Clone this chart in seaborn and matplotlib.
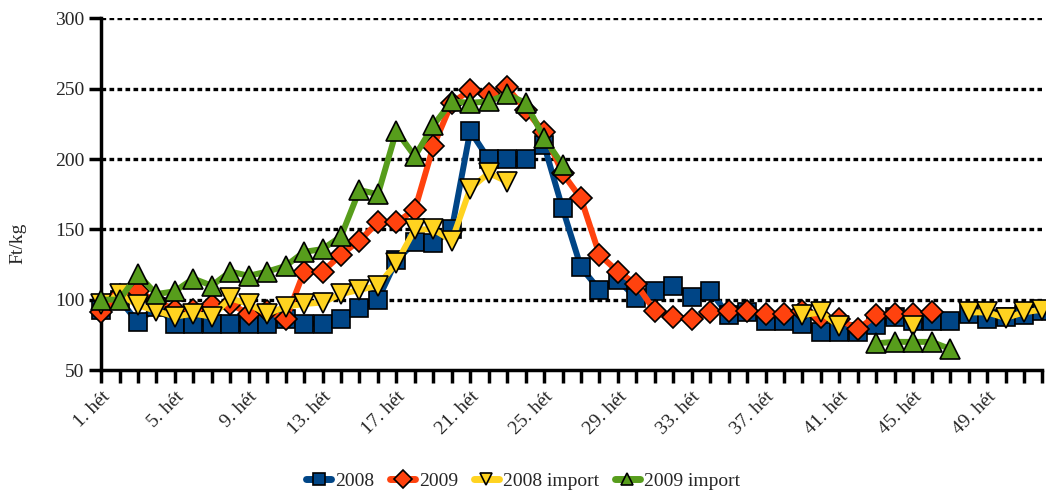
import numpy as np
import pandas as pd
import matplotlib
matplotlib.use('Agg')
import matplotlib.pyplot as plt
from matplotlib.lines import Line2D
import seaborn as sns

nan = np.nan

weeks = list(range(1, 53))

# Ft/kg (gaps = no data)
v2008 = [93, 100, 84, 95, 83, 83, 83, 83, 83, 83, 86, 83, 83, 86, 94, 100,
         128, 141, 140, 150, 220, 200, 200, 200, 210, 165, 123, 107, 114, 101,
         106, 110, 102, 106, 89, 91, 85, 85, 83, 77, 77, 77, 82, 88, 85, 85,
         85, 90, 86, 88, 89, 92]
v2009 = [91, 103, 106, 99, 93, 93, 96, 97, 90, 92, 86, 120, 120, 132, 142, 155,
         155, 164, 209, 240, 249, 246, 251, 235, 219, 190, 172, 132, 120, 111,
         92, 88, 86, 91, 92, 92, 90, 90, 92, 88, 86, 79, 89, 90, 90, 91,
         nan, nan, nan, nan, nan, nan]
v2008_imp = [97, 104, 96, 92, 88, 90, 88, 101, 97, 90, 95, 97, 98, 104, 107, 110,
             126, 150, 150, 142, 179, 190, 184, nan, nan, nan, nan, nan, nan, nan,
             nan, nan, nan, nan, nan, nan, nan, nan, 89, 91, 81, nan, nan, nan, 81, nan,
             nan, 91, 91, 87, 91, 93]
v2009_imp = [100, 100, 118, 104, 106, 115, 110, 120, 117, 120, 124, 134, 136, 145, 178, 175,
             220, 202, 224, 241, 240, 241, 246, 240, 215, 196, nan, nan, nan, nan,
             nan, nan, nan, nan, nan, nan, nan, nan, nan, nan, nan, nan, 69, 70, 70, 70,
             65, nan, nan, nan, nan, nan]

labels = ['2008', '2009', '2008 import', '2009 import']
values = [v2008, v2009, v2008_imp, v2009_imp]
colors = ['#004586', '#ff420e', '#ffd320', '#579d1c']
markers = ['s', 'D', 'v', '^']
msizes = [13, 11, 14, 14]

tick_weeks = list(range(1, 53, 4))
tick_labels = [f'{w}. hét' for w in tick_weeks]

sns.set_style('white')
plt.rcParams['font.family'] = ['Liberation Serif', 'DejaVu Serif']

fig = plt.figure(figsize=(10.46, 4.94), dpi=100)
ax = fig.add_axes([0.0966, 0.251, 0.9, 0.7116])

for lab, vals, col, mk, ms in zip(labels, values, colors, markers, msizes):
    df = pd.DataFrame({'week': weeks, 'value': vals})
    # split into contiguous runs so gaps stay gaps
    df['seg'] = df['value'].isna().cumsum()
    df = df.dropna()
    sns.lineplot(data=df, x='week', y='value', units='seg', estimator=None,
                 color=col, lw=4.3, marker=mk, markersize=ms,
                 markeredgecolor='black', markeredgewidth=1.2,
                 clip_on=False, ax=ax, zorder=3)

ax.set_xlim(1, 52)
ax.set_ylim(50, 300)
ax.set_yticks(range(50, 301, 50))
ax.set_xticks(weeks, minor=True)
ax.set_xticks(tick_weeks)
ax.set_xticklabels(tick_labels, rotation=45, ha='right', rotation_mode='anchor')
ax.tick_params(axis='x', which='both', direction='out', length=9, width=2.5,
               color='black', bottom=True, labelsize=14, pad=4)
ax.tick_params(axis='y', direction='out', length=9, width=2.5, color='black',
               left=True, labelsize=14, pad=3)

for g in range(100, 301, 50):
    ax.axhline(g, color='black', lw=2.4, ls=(0, (1.4, 1.0)), zorder=1)

for side in ['top', 'right']:
    ax.spines[side].set_visible(False)
for side in ['left', 'bottom']:
    ax.spines[side].set_linewidth(2.5)
    ax.spines[side].set_color('black')

ax.set_xlabel('')
ax.set_ylabel('Ft/kg', fontsize=14)
ax.yaxis.set_label_coords(-0.079, 0.36)

handles = [Line2D([0], [0], color=c, lw=5, marker=m, markersize=9,
                  markeredgecolor='black', markeredgewidth=1.2)
           for c, m in zip(colors, markers)]
fig.legend(handles, labels, loc='center', bbox_to_anchor=(0.5, 0.026), ncol=4,
           frameon=False, fontsize=14, handlelength=1.3, handletextpad=0.2,
           columnspacing=0.8)

fig.savefig('out.png', dpi=100)
